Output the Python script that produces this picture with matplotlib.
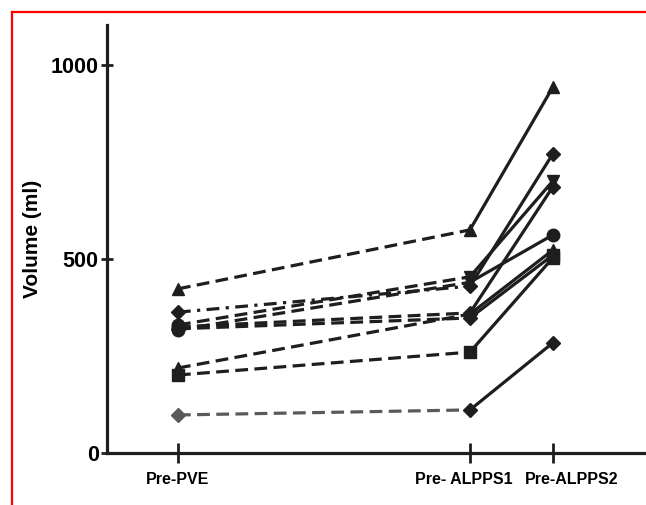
import matplotlib.pyplot as plt
from matplotlib.lines import Line2D

plt.rcParams['font.family'] = ['Liberation Sans', 'DejaVu Sans']
plt.rcParams['font.weight'] = 'bold'

# time points and their position on the x axis
stages = ['Pre-PVE', 'Pre- ALPPS1', 'Pre-ALPPS2']
stage_x = [0, 1, 1.284]

# volume (ml) per patient at each stage
vol_a = [423, 575, 943]
vol_b = [363, 430, 771]
vol_c = [330, 454, 701]
vol_d = [317, 440, 562]
vol_e = [325, 361, 686]
vol_f = [219, 358, 523]
vol_g = [201, 260, 503]
vol_h = [98, 111, 284]
vol_i = [320, 348, 510]

patients = [vol_a, vol_b, vol_c, vol_d, vol_e, vol_f, vol_g, vol_h, vol_i]
marks = [['^', '^', '^'], ['D', 'D', 'D'], ['o', 'v', 'v'], ['o', 'v', 'o'],
         ['o', 'D', 'D'], ['^', 'D', '^'], ['s', 's', 's'], ['D', 'D', 'D'],
         ['D', 'D', 's']]
first_style = ['--', '-.', '--', '--', '--', '--', '--', '--', '--']
first_color = ['#1e1e1e'] * 7 + ['#5a5a5a', '#1e1e1e']

fig = plt.figure(figsize=(6.46, 5.05), dpi=100)
ax = fig.add_axes([107 / 646, 52 / 505, 1 - 107 / 646, 428 / 505])

col = '#1e1e1e'
for vol, mk, ls, c0 in zip(patients, marks, first_style, first_color):
    if ls == '-.':
        ax.plot(stage_x[:2], vol[:2], color=c0, lw=2.3, dashes=(4, 2, 1, 2))
    else:
        ax.plot(stage_x[:2], vol[:2], color=c0, lw=2.3, dashes=(4, 2))
    ax.plot(stage_x[1:], vol[1:], color=col, lw=2.3, ls='-')
    for i in range(3):
        mc = c0 if i == 0 else col
        ms = 7 if mk[i] == 'D' else 9
        ax.plot(stage_x[i], vol[i], marker=mk[i], color=mc, ms=ms, ls='none')

ax.set_xlim(-0.243, 1.603)
ax.set_ylim(0, 1103)
ax.set_xticks(stage_x)
ax.set_xticklabels([])
ax.set_yticks([0, 500, 1000])
ax.set_yticklabels(['0', '500', '1000'], fontsize=15.5, fontweight='bold')
ax.set_ylabel('Volume (ml)', fontsize=15, fontweight='bold', labelpad=6)

# x labels placed by hand, the two right-hand ones pushed apart like the original
shifts = [0, -4.5, 13.5]
for xv, name, dx in zip(stage_x, stages, shifts):
    ax.annotate(name, xy=(xv, 0), xycoords=('data', 'axes fraction'),
                xytext=(dx, -14), textcoords='offset points',
                ha='center', va='top', fontsize=11.5, fontweight='bold')

for s in ['top', 'right']:
    ax.spines[s].set_visible(False)
for s in ['left', 'bottom']:
    ax.spines[s].set_linewidth(2.3)
    ax.spines[s].set_color(col)
ax.tick_params(axis='x', direction='inout', length=15, width=2, color=col)
ax.tick_params(axis='y', direction='inout', length=8, width=2, color=col, pad=2)

# red frame on top and left
fig.add_artist(Line2D([11.5 / 646, 1], [1 - 11.5 / 505, 1 - 11.5 / 505],
                      transform=fig.transFigure, color='red', lw=1.6))
fig.add_artist(Line2D([11.5 / 646, 11.5 / 646], [0, 1 - 11.5 / 505],
                      transform=fig.transFigure, color='red', lw=1.6))

fig.savefig('out.png', dpi=100)
